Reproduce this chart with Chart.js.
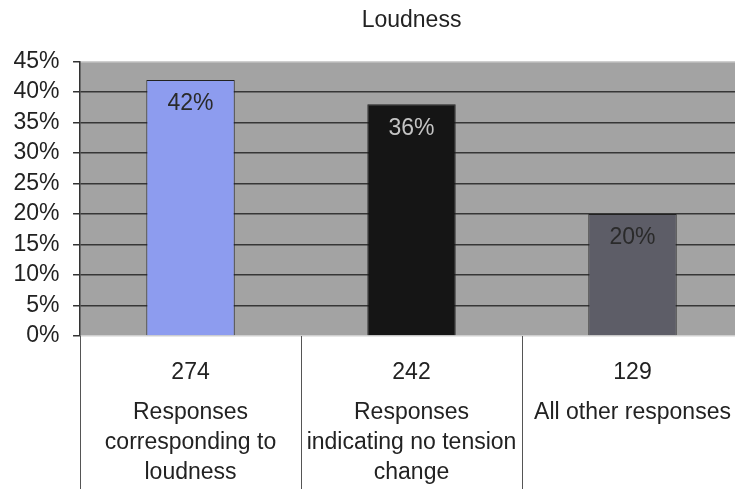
<!DOCTYPE html>
<html>
<head>
<meta charset="utf-8">
<title>Loudness</title>
<script src="https://cdn.jsdelivr.net/npm/chart.js@4/dist/chart.umd.min.js"></script>
<style>
    html, body { margin: 0; padding: 0; background: #fff; overflow: hidden; }
    #wrap { width: 745px; height: 489px; }
</style>
</head>
<body>
<div id="wrap"><canvas id="loudnessChart"></canvas></div>
<script>
// Chart data
const counts = ['274', '242', '129'];
const categories = [
    ['Responses', 'corresponding to', 'loudness'],
    ['Responses', 'indicating no tension', 'change'],
    ['All other responses']
];
const percents = [42, 38, 20];
const barLabels = ['42%', '36%', '20%'];
const barColors = ['#8d9cef', '#151515', '#5d5d67'];
const labelColors = ['#2a2a2a', '#c4c4c4', '#2a2a2a'];
const yMax = 45;
const yStep = 5;

const FONT = "'Liberation Sans', Arial, sans-serif";

// Gray plot background
const plotBackground = {
    id: 'plotBackground',
    beforeDraw(chart) {
        const ctx = chart.ctx;
        const area = chart.chartArea;
        ctx.save();
        ctx.fillStyle = '#ffffff';
        ctx.fillRect(0, 0, chart.width, chart.height);
        ctx.fillStyle = '#a3a3a3';
        ctx.fillRect(area.left, area.top, area.right - area.left, area.bottom - area.top);
        ctx.restore();
    }
};

// Vertical table lines under the plot, between categories
const tableLines = {
    id: 'tableLines',
    afterDraw(chart) {
        const ctx = chart.ctx;
        const scale = chart.scales.x;
        const half = (scale.getPixelForValue(1) - scale.getPixelForValue(0)) / 2;
        ctx.save();
        ctx.strokeStyle = '#555555';
        ctx.lineWidth = 1;
        for (let i = 0; i <= counts.length; i++) {
            const x = Math.round(scale.getPixelForValue(i) - half) + 0.5;
            ctx.beginPath();
            ctx.moveTo(x, chart.chartArea.bottom);
            ctx.lineTo(x, chart.height);
            ctx.stroke();
        }
        ctx.restore();
    }
};

// Percent labels inside the bars
const barValueLabels = {
    id: 'barValueLabels',
    afterDatasetsDraw(chart) {
        const ctx = chart.ctx;
        const meta = chart.getDatasetMeta(0);
        ctx.save();
        ctx.font = '23px ' + FONT;
        ctx.textAlign = 'center';
        ctx.textBaseline = 'middle';
        meta.data.forEach((bar, i) => {
            ctx.fillStyle = labelColors[i];
            ctx.fillText(barLabels[i], bar.x, bar.y + 24);
        });
        ctx.restore();
    }
};

// Fixed row heights for the two label rows
function countsRowFit(scale) {
    scale.paddingLeft = 0;
    scale.paddingRight = 0;
    scale.height = 50;
}

function namesRowFit(scale) {
    scale.paddingLeft = 0;
    scale.paddingRight = 0;
    scale.height = 103;
}

document.addEventListener('DOMContentLoaded', function() {
    const ctx = document.getElementById('loudnessChart').getContext('2d');
    new Chart(ctx, {
        type: 'bar',
        data: {
            labels: counts,
            datasets: [{
                data: percents,
                backgroundColor: barColors,
                borderColor: '#222222',
                borderWidth: 1,
                categoryPercentage: 1,
                barPercentage: 0.4,
                xAxisID: 'x',
                yAxisID: 'y'
            }]
        },
        options: {
            responsive: true,
            maintainAspectRatio: false,
            animation: false,
            devicePixelRatio: 1,
            layout: {
                padding: { left: 0, right: 2, top: 0, bottom: 0 }
            },
            plugins: {
                legend: { display: false },
                tooltip: { enabled: false },
                title: {
                    display: true,
                    fullSize: false,
                    text: 'Loudness',
                    color: '#222222',
                    font: { family: FONT, size: 23, weight: 'normal' },
                    padding: { top: 7, bottom: 27 }
                }
            },
            scales: {
                y: {
                    min: 0,
                    max: yMax,
                    ticks: {
                        stepSize: yStep,
                        autoSkip: false,
                        padding: 13.5,
                        color: '#222222',
                        font: { family: FONT, size: 23 },
                        callback: value => value + '%'
                    },
                    grid: {
                        color: c => (c.tick && (c.tick.value === 0 || c.tick.value === yMax)) ? '#cfcfcf' : '#363636',
                        lineWidth: 1.5,
                        tickLength: 7,
                        tickColor: '#333333'
                    },
                    border: { display: true, color: '#333333', width: 1.5 }
                },
                x: {
                    position: 'bottom',
                    weight: 0,
                    offset: true,
                    afterFit: countsRowFit,
                    ticks: {
                        padding: 23,
                        color: '#222222',
                        font: { family: FONT, size: 23 }
                    },
                    grid: { display: false, drawTicks: false },
                    border: { display: false }
                },
                xNames: {
                    type: 'category',
                    position: 'bottom',
                    weight: 1,
                    labels: categories,
                    offset: true,
                    afterFit: namesRowFit,
                    ticks: {
                        padding: 12,
                        color: '#222222',
                        font: { family: FONT, size: 23, lineHeight: 1.304 }
                    },
                    grid: { display: false, drawTicks: false },
                    border: { display: false }
                }
            }
        },
        plugins: [plotBackground, tableLines, barValueLabels]
    });
});
</script>
</body>
</html>
